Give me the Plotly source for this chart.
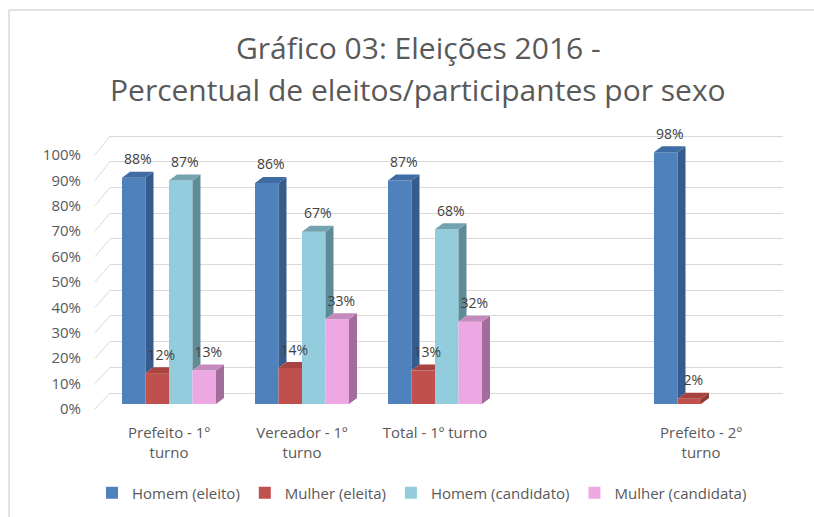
import plotly.graph_objects as go

# ---------------- data ----------------
categories = ["Prefeito - 1º turno", "Vereador - 1º turno", "Total - 1º turno", "", "Prefeito - 2º turno"]
tick_labels = ["Prefeito - 1º<br>turno", "Vereador - 1º<br>turno", "Total - 1º turno", "", "Prefeito - 2º<br>turno"]
series_names = ["Homem (eleito)", "Mulher (eleita)", "Homem (candidato)", "Mulher (candidata)"]
homem_eleito = [88, 86, 87, None, 98]
mulher_eleita = [12, 14, 13, None, 2]
homem_candidato = [87, 67, 68, None, None]
mulher_candidata = [13, 33, 32, None, None]
y_tick_values = [0, 10, 20, 30, 40, 50, 60, 70, 80, 90, 100]
y_tick_labels = ["0%", "10%", "20%", "30%", "40%", "50%", "60%", "70%", "80%", "90%", "100%"]
title_lines = ["Gráfico 03: Eleições 2016 -", "Percentual de eleitos/participantes por sexo"]

series_values = [homem_eleito, mulher_eleita, homem_candidato, mulher_candidata]
front_colors = ["#4F81BD", "#C0504D", "#93CDDD", "#EDA8E3"]
side_colors = ["#355C8C", "#8E3A38", "#5F8B97", "#A26C9B"]
top_colors = ["#3F6CA3", "#A8433F", "#73A3B1", "#C48ABD"]

# ---------------- geometry (pixels) ----------------
W, H = 814, 517
L, R, T, B = 110, 31, 130, 105
PW = W - L - R
PH = H - T - B
plot_bottom = H - B

cat_px0, cat_step = 169, 133          # pixel of first category, spacing
bar_w_px, depth_x_px, depth_y_px = 23.5, 8, 6

bar_zero_px, bar_unit = 404, 2.57     # bar value scale
grid_zero_px, grid_unit = 393, 2.57   # back wall gridlines
lab_zero_px, lab_unit = 409, 2.54     # front tick labels
label_lift_px = 4


def axis_range(zero_px, unit):
    return [(zero_px - plot_bottom) / unit, (zero_px - T) / unit]


def xpaper(px):
    return (px - L) / PW


def ypaper(py):
    return (plot_bottom - py) / PH


x_range = [(L - cat_px0) / cat_step, (W - R - cat_px0) / cat_step]
w = bar_w_px / cat_step
dx = depth_x_px / cat_step
dy = depth_y_px / bar_unit
lift = label_lift_px / bar_unit

fig = go.Figure()

# dummy traces so the grid axis and label axis subplots exist
fig.add_trace(go.Scatter(x=[None], y=[None], yaxis="y", showlegend=False, hoverinfo="skip"))
fig.add_trace(go.Scatter(x=[None], y=[None], yaxis="y3", showlegend=False, hoverinfo="skip"))

n_series = len(series_values)

# front faces
for k, (name, vals) in enumerate(zip(series_names, series_values)):
    xs, ys = [], []
    for i, v in enumerate(vals):
        if v is None:
            continue
        xl = i + (k - n_series / 2) * w
        xs.append(xl + w / 2)
        ys.append(v)
    fig.add_trace(go.Bar(
        x=xs, y=ys, width=w, name=name, yaxis="y2",
        marker=dict(color=front_colors[k], line=dict(width=0)),
        hoverinfo="skip",
    ))

# side and top faces (3D look)
for k, vals in enumerate(series_values):
    sx, sy, tx, ty = [], [], [], []
    nxt = series_values[k + 1] if k + 1 < n_series else None
    for i, v in enumerate(vals):
        if v is None:
            continue
        xl = i + (k - n_series / 2) * w
        xr = xl + w
        vn = nxt[i] if nxt is not None else None
        b = vn if vn is not None else 0
        if b < v:
            sx += [xr, xr + dx, xr + dx, xr, xr, None]
            sy += [b, b + dy, v + dy, v, b, None]
        if vn is not None and vn > v:
            tx += [xl, xr, xr, xl + dx, xl, None]
            ty += [v, v, v + dy, v + dy, v, None]
        else:
            tx += [xl, xr, xr + dx, xl + dx, xl, None]
            ty += [v, v, v + dy, v + dy, v, None]
    fig.add_trace(go.Scatter(x=sx, y=sy, yaxis="y2", mode="lines", fill="toself",
                             fillcolor=side_colors[k], line=dict(width=0),
                             showlegend=False, hoverinfo="skip"))
    fig.add_trace(go.Scatter(x=tx, y=ty, yaxis="y2", mode="lines", fill="toself",
                             fillcolor=top_colors[k], line=dict(width=0),
                             showlegend=False, hoverinfo="skip"))

# data labels
for k, vals in enumerate(series_values):
    lx, ly, lt = [], [], []
    for i, v in enumerate(vals):
        if v is None:
            continue
        xl = i + (k - n_series / 2) * w
        lx.append(xl + w / 2 + dx / 2)
        ly.append(v + dy + lift)
        lt.append(f"{v}%")
    fig.add_trace(go.Scatter(x=lx, y=ly, text=lt, mode="text", yaxis="y2",
                             textposition="top center", cliponaxis=False,
                             textfont=dict(family="Open Sans", size=14, color="#404040"),
                             showlegend=False, hoverinfo="skip"))

# slanted left parts of the gridlines
shapes = []
for t in y_tick_values:
    front_px = lab_zero_px - lab_unit * t
    front_val = (grid_zero_px - front_px) / grid_unit
    shapes.append(dict(type="line", xref="paper", yref="y",
                       x0=xpaper(95), y0=front_val, x1=0, y1=t,
                       line=dict(color="#D9D9D9", width=1)))
# chart frame (left and top edges)
shapes.append(dict(type="line", xref="paper", yref="paper",
                   x0=xpaper(9), y0=ypaper(10), x1=xpaper(W), y1=ypaper(10),
                   line=dict(color="#D9D9D9", width=1.5), layer="below"))
shapes.append(dict(type="line", xref="paper", yref="paper",
                   x0=xpaper(9), y0=ypaper(10), x1=xpaper(9), y1=ypaper(H),
                   line=dict(color="#D9D9D9", width=1.5), layer="below"))

annotations = [
    dict(text=title_lines[0], xref="paper", yref="paper", x=xpaper(418), y=ypaper(48),
         xanchor="center", yanchor="middle", showarrow=False,
         font=dict(family="Open Sans", size=30, color="#595959")),
    dict(text=title_lines[1], xref="paper", yref="paper", x=xpaper(418), y=ypaper(89),
         xanchor="center", yanchor="middle", showarrow=False,
         font=dict(family="Open Sans", size=30, color="#595959")),
]

fig.update_layout(
    width=W, height=H,
    margin=dict(l=L, r=R, t=T, b=B, pad=0, autoexpand=False),
    paper_bgcolor="white", plot_bgcolor="white",
    barmode="overlay",
    showlegend=True,
    font=dict(family="Open Sans", size=15, color="#595959"),
    xaxis=dict(range=x_range, tickmode="array", tickvals=list(range(len(categories))),
               ticktext=tick_labels, showgrid=False, zeroline=False, showline=False,
               ticks="", ticklabelstandoff=10,
               tickfont=dict(family="Open Sans", size=15, color="#595959")),
    yaxis=dict(range=axis_range(grid_zero_px, grid_unit), tickmode="array",
               tickvals=y_tick_values, showticklabels=False, showgrid=True,
               gridcolor="#D9D9D9", gridwidth=1, zeroline=False, showline=False, ticks=""),
    yaxis2=dict(range=axis_range(bar_zero_px, bar_unit), overlaying="y", anchor="x",
                showgrid=False, zeroline=False, showline=False, showticklabels=False, ticks=""),
    yaxis3=dict(range=axis_range(lab_zero_px, lab_unit), overlaying="y", anchor="x",
                tickmode="array", tickvals=y_tick_values, ticktext=y_tick_labels,
                showgrid=False, zeroline=False, showline=False, ticks="",
                ticklabelstandoff=28,
                tickfont=dict(family="Open Sans", size=15, color="#595959")),
    legend=dict(orientation="h", x=xpaper(422), y=ypaper(493), xanchor="center",
                yanchor="middle", font=dict(family="Open Sans", size=15, color="#595959"),
                bgcolor="rgba(0,0,0,0)", traceorder="normal"),
    shapes=shapes,
    annotations=annotations,
)

fig.write_html("out.html", config={"displayModeBar": False},
               post_script="document.body.style.margin='0';document.body.style.overflow='hidden';")
